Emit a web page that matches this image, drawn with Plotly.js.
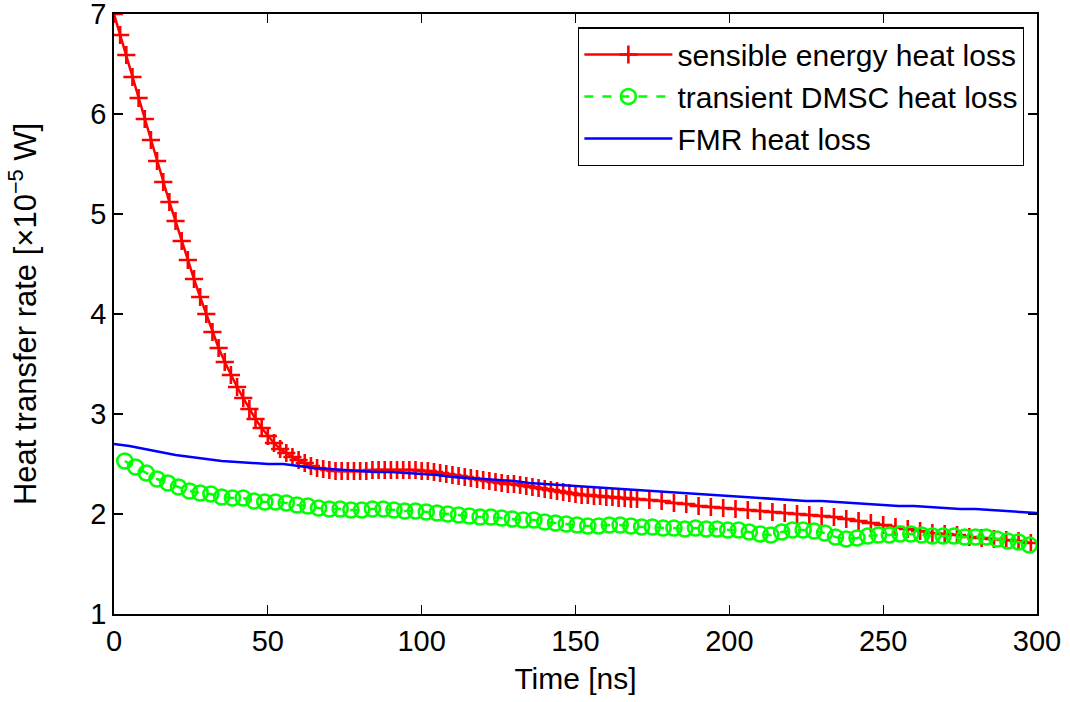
<!DOCTYPE html>
<html>
<head>
<meta charset="utf-8">
<script src="https://cdn.plot.ly/plotly-3.0.1.min.js"></script>
<style>html,body{margin:0;padding:0;background:#fff}#chart{width:1070px;height:702px}</style>
</head>
<body>
<div id="chart"></div>
<script>
// Sensible energy heat loss (red, "+")
const sensibleTime = [0,2,4,6,8,10,12,14,16,18,20,22,24,26,28,30,32,34,36,38,40,42,44,46,48,50,52,54,56,58,60,62,64,66,68,70,72,74,76,78,80,82,84,86,88,90,92,94,96,98,100,102,104,106,108,110,112,114,116,118,120,122,124,126,128,130,132,134,136,138,140,142,144,146,148,150,152,154,156,158,160,162,164,166,168,170,174,178,182,186,190,194,198,202,206,210,214,218,222,226,230,234,238,242,246,250,254,258,262,266,270,274,278,282,286,290,294,298];
const sensibleValue = [7.00,6.79,6.59,6.37,6.16,5.95,5.74,5.53,5.32,5.12,4.93,4.73,4.54,4.35,4.17,4.00,3.82,3.66,3.52,3.39,3.27,3.16,3.05,2.95,2.86,2.78,2.71,2.65,2.61,2.57,2.54,2.51,2.48,2.46,2.45,2.44,2.43,2.43,2.43,2.43,2.43,2.43,2.44,2.44,2.44,2.44,2.44,2.44,2.44,2.44,2.43,2.43,2.42,2.41,2.40,2.39,2.38,2.37,2.36,2.35,2.34,2.33,2.32,2.31,2.30,2.30,2.29,2.28,2.27,2.26,2.25,2.24,2.23,2.22,2.21,2.20,2.19,2.19,2.18,2.18,2.17,2.17,2.16,2.16,2.15,2.15,2.14,2.13,2.11,2.10,2.08,2.07,2.06,2.05,2.04,2.03,2.02,2.01,2.00,1.99,1.98,1.97,1.95,1.93,1.91,1.89,1.87,1.85,1.83,1.81,1.80,1.79,1.77,1.76,1.75,1.74,1.73,1.71];

// Transient DMSC heat loss (green, circles, dashed)
const dmscTime = [3.5,7,10.5,14,17.5,21,24.5,28,31.5,35,38.5,42,45.5,49,52.5,56,59.5,63,66.5,70,73.5,77,80.5,84,87.5,91,94.5,98,101.5,105,108.5,112,115.5,119,122.5,126,129.5,133,136.5,140,143.5,147,150.5,154,157.5,161,164.5,168,171.5,175,178.5,182,185.5,189,192.5,196,199.5,203,206.5,210,213.5,217,220.5,224,227.5,231,234.5,238,241.5,245,248.5,252,255.5,259,262.5,266,269.5,273,276.5,280,283.5,287,290.5,294,297.5];
const dmscValue = [2.53,2.47,2.41,2.35,2.31,2.27,2.23,2.21,2.20,2.17,2.16,2.16,2.13,2.12,2.12,2.11,2.09,2.08,2.06,2.05,2.05,2.04,2.04,2.05,2.05,2.04,2.03,2.03,2.02,2.01,2.00,1.99,1.98,1.97,1.97,1.96,1.95,1.94,1.94,1.92,1.91,1.90,1.89,1.88,1.88,1.89,1.89,1.88,1.87,1.87,1.86,1.86,1.85,1.86,1.85,1.85,1.84,1.84,1.82,1.80,1.79,1.82,1.84,1.84,1.83,1.81,1.77,1.75,1.76,1.78,1.79,1.79,1.80,1.80,1.79,1.78,1.78,1.78,1.77,1.77,1.77,1.75,1.73,1.72,1.69];

// FMR heat loss (blue line)
const fmrTime = [0,5,10,15,20,25,30,35,40,45,50,55,60,65,70,75,80,85,90,95,100,105,110,115,120,125,130,135,140,145,150,155,160,165,170,175,180,185,190,195,200,205,210,215,220,225,230,235,240,245,250,255,260,265,270,275,280,285,290,295,300];
const fmrValue = [2.70,2.68,2.65,2.62,2.59,2.57,2.55,2.53,2.52,2.51,2.50,2.50,2.48,2.46,2.45,2.44,2.43,2.42,2.42,2.41,2.40,2.39,2.37,2.36,2.35,2.34,2.33,2.31,2.30,2.29,2.28,2.27,2.26,2.25,2.24,2.23,2.22,2.21,2.20,2.19,2.18,2.17,2.16,2.15,2.14,2.13,2.13,2.12,2.11,2.10,2.09,2.08,2.08,2.07,2.06,2.05,2.05,2.04,2.03,2.02,2.01];

const xTicks = [0,50,100,150,200,250,300];
const yTicks = [1,2,3,4,5,6,7];

const FONT = 'Liberation Sans, Arial, Helvetica, sans-serif';

const traces = [
  {x: sensibleTime, y: sensibleValue, name: 'sensible energy heat loss', type: 'scatter', mode: 'lines+markers',
   line: {color: '#ff0000', width: 2.5},
   marker: {symbol: 'cross-thin', size: 13, color: '#ff0000', line: {color: '#ff0000', width: 2.6}}},
  {x: dmscTime, y: dmscValue, name: 'transient DMSC heat loss', type: 'scatter', mode: 'lines+markers',
   line: {color: '#00ff00', width: 2.5, dash: 'dash'},
   marker: {symbol: 'circle-open', size: 15, color: '#00ff00', line: {color: '#00ff00', width: 2.6}}},
  {x: fmrTime, y: fmrValue, name: 'FMR heat loss', type: 'scatter', mode: 'lines',
   line: {color: '#0000ff', width: 2.5}}
];

const axisCommon = {
  showgrid: false, zeroline: false, showline: true, linecolor: '#000', linewidth: 1.8,
  mirror: 'ticks', ticks: 'inside', ticklen: 9, tickwidth: 1.2, tickcolor: '#000',
  ticklabeloverflow: 'allow',
  tickfont: {family: FONT, size: 29, color: '#000'}
};

const layout = {
  width: 1070, height: 702,
  margin: {l: 114, r: 33, t: 14, b: 88},
  paper_bgcolor: '#fff', plot_bgcolor: '#fff',
  font: {family: FONT, size: 29, color: '#000'},
  showlegend: true,
  legend: {x: 0.986, y: 0.978, xanchor: 'right', yanchor: 'top', bgcolor: '#fff',
           bordercolor: '#000', borderwidth: 1.3, font: {family: FONT, size: 30, color: '#000'},
           itemwidth: 88, tracegroupgap: 0},
  xaxis: Object.assign({}, axisCommon, {range: [0, 300], tickvals: xTicks, ticktext: xTicks.map(String),
           title: {text: 'Time [ns]', font: {family: FONT, size: 30, color: '#000'}, standoff: 12}}),
  yaxis: Object.assign({}, axisCommon, {range: [1, 7], tickvals: yTicks, ticktext: yTicks.map(String),
           title: {text: 'Heat transfer rate [×10<sup>−5</sup> W]', font: {family: FONT, size: 31, color: '#000'}, standoff: 44}})
};

Plotly.newPlot('chart', traces, layout, {displayModeBar: false, staticPlot: true});
</script>
</body>
</html>
